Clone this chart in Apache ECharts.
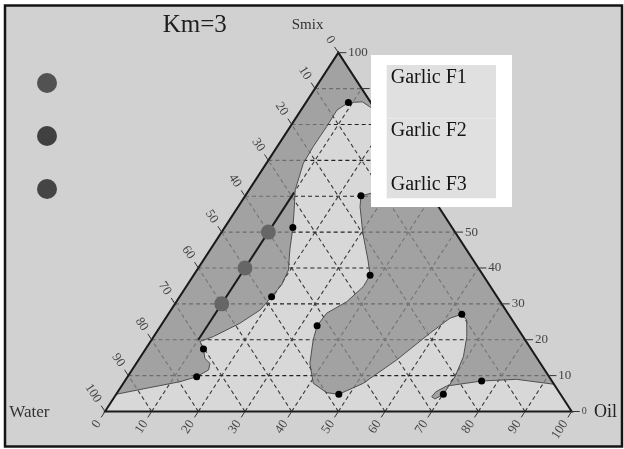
<!DOCTYPE html>
<html><head><meta charset="utf-8">
<script src="https://cdn.jsdelivr.net/npm/echarts@6/dist/echarts.min.js"></script>
<style>html,body{margin:0;padding:0;background:#fff}#c{width:624px;height:449px}</style>
</head><body><div id="c"></div>
<script>
// Ternary points are [Oil %, Smix %]; Water % = 100 - Oil - Smix
const tickValues = [0,10,20,30,40,50,60,70,80,90,100];
const gridValues = [10,20,30,40,50,60,70,80,90];
const vertices = [[0,0],[100,0],[0,100]]; // Water, Oil, Smix corners

// boundary of the clear (non-shaded) phase region, from left edge to right edge
const phaseBoundary = [
  [0,4.8],[5.7,6.5],[11.9,8.3],[14.8,9.7],[16.4,11.6],[15.8,13.4],[14.0,14.8],[12.4,17.4],
  [10.6,19.5],[12.8,20.9],[16.6,24.6],[19.1,28.3],[19.7,32.0],[20.2,35.3],[19.6,39.4],
  [17.1,45.0],[14.6,51.3],[12.3,56.5],[9.9,61.7],[7.9,69.2],[7.7,73.8],[7.8,79.4],[7.7,84.0],
  [9.1,86.1],[12,86.3],[15,84.5],[21,78],[27,69],[28.5,63.5],[27,61],
  [24.8,60.1],[26.1,57.1],[30.4,49.7],[35.25,42.2],[37.8,38.0],[37.95,34.8],[36.5,30.6],
  [33.8,27.4],[33.5,23.9],[34.65,19.9],[37.2,13.4],[40.7,7.86],[44.9,5.24],[47.7,4.8],
  [51.4,7.86],[55.3,14.35],[58.7,21.8],[60.9,26.0],[62.9,27.1],[64.75,25.5],[67.1,20.85],
  [69.15,15.3],[70.15,9.7],[70.1,4.8],[68.95,3.5],[67.95,4.1],[68.15,5.5],[69.65,7.1],
  [76.45,8.5],[83.7,8.97],[92.4,7.6]
];
const boundaryPoints = [
  [9.1,86.1],[24.8,60.1],[14.6,51.3],[37.8,38.0],[19.7,32.0],[33.5,23.9],
  [12.4,17.4],[14.8,9.7],[47.7,4.8],[62.9,27.1],[76.45,8.5],[70.1,4.8]
];
const formulationNames = ['Garlic F1','Garlic F2','Garlic F3'];
const formulationPoints = [[10,50],[10,40],[10,30]];
const legendColors = ['#525252','#404040','#454545'];
const dilutionLine = [[10,20],[10,61]];

const toXY = p => [p[0] + p[1] / 2, p[1]];
const SERIF = '"Liberation Serif","Times New Roman",serif';

const gridSegs = [];
gridValues.forEach(k => {
  gridSegs.push([...toXY([0,k]), ...toXY([100-k,k]), 0]);
  gridSegs.push([...toXY([k,0]), ...toXY([k,100-k]), 1]);
  gridSegs.push([...toXY([100-k,0]), ...toXY([0,100-k]), 1]);
});
const tickData = [];
[0,1,2].forEach(ax => tickValues.forEach(v => tickData.push([ax, v])));

function norm(a, b) { const dx = a[0]-b[0], dy = a[1]-b[1]; const l = Math.hypot(dx, dy); return [dx/l, dy/l]; }

const chart = echarts.init(document.getElementById('c'), null, {renderer: 'canvas'});
const series = [
  { type: 'custom', coordinateSystem: 'cartesian2d', clip: false, silent: true, z: 1, data: [[0,0]],
    renderItem: (p, api) => ({ type: 'polygon', shape: { points: vertices.map(v => api.coord(toXY(v))) },
      style: { fill: '#d8d8d8' } }) },
  { type: 'custom', coordinateSystem: 'cartesian2d', clip: false, silent: true, z: 2, data: gridSegs,
    renderItem: (p, api) => {
      const a = api.coord([api.value(0), api.value(1)]), b = api.coord([api.value(2), api.value(3)]);
      const h = api.value(4) === 0;
      return { type: 'line', shape: { x1: a[0], y1: a[1], x2: b[0], y2: b[1] },
        style: { stroke: h ? '#222' : '#3a3a3a', lineWidth: 1.1, lineDash: [4, 3] } };
    } },
  { type: 'custom', coordinateSystem: 'cartesian2d', clip: false, silent: true, z: 3, data: [[0,0]],
    renderItem: (p, api) => ({ type: 'polygon',
      shape: { points: phaseBoundary.concat([[0,100]]).map(q => api.coord(toXY(q))) },
      style: { fill: 'rgba(140,140,140,0.7)', stroke: '#505050', lineWidth: 1 } }) },
  { type: 'custom', coordinateSystem: 'cartesian2d', clip: false, silent: true, z: 4, data: [[0,0]],
    renderItem: (p, api) => ({ type: 'polygon', shape: { points: vertices.map(v => api.coord(toXY(v))) },
      style: { fill: null, stroke: '#1a1a1a', lineWidth: 2 } }) },
  { type: 'custom', coordinateSystem: 'cartesian2d', clip: false, silent: true, z: 4, data: tickData,
    renderItem: (p, api) => {
      const ax = api.value(0), v = api.value(1);
      const W = api.coord(toXY([0,0])), O = api.coord(toXY([100,0])), A = api.coord(toXY([0,100]));
      let base, dir, align, len = 7, gap = 5, font = '13px ' + SERIF;
      if (ax === 0) { base = api.coord(toXY([v,0])); dir = norm(W, A); align = 'right'; }
      else if (ax === 1) { base = api.coord(toXY([0,100-v])); dir = norm(A, O); align = 'right'; }
      else { base = api.coord(toXY([100-v,v])); dir = [1,0]; align = 'left'; len = 8; gap = 2;
             if (v === 0) font = '10px ' + SERIF; }
      const rot = ax === 2 ? 0 : Math.atan2(dir[1], -dir[0]);
      const e = [base[0] + dir[0]*len, base[1] + dir[1]*len];
      const t = [base[0] + dir[0]*(len+gap), base[1] + dir[1]*(len+gap)];
      return { type: 'group', children: [
        { type: 'line', shape: { x1: base[0], y1: base[1], x2: e[0], y2: e[1] }, style: { stroke: '#333', lineWidth: 1 } },
        { type: 'text', x: t[0], y: t[1], rotation: rot,
          style: { text: String(v), fill: '#444', font: font, align: align, verticalAlign: 'middle' } }
      ] };
    } },
  { type: 'line', z: 5, silent: true, data: dilutionLine.map(toXY), symbol: 'none',
    lineStyle: { color: '#1a1a1a', width: 2 } },
  { type: 'scatter', z: 7, silent: true, data: boundaryPoints.map(toXY), symbolSize: 7,
    itemStyle: { color: '#000', opacity: 1 } }
];
formulationNames.forEach((n, i) => series.push({
  type: 'scatter', name: n, z: 6, silent: true, symbolSize: 15,
  itemStyle: { color: legendColors[i], opacity: 1 },
  data: [{ value: toXY(formulationPoints[i]), itemStyle: { color: '#666', opacity: 1 } }]
}));

const txt = (text, x, y, size, color, z) => ({ type: 'text', x, y, z: z || 10,
  style: { text, fill: color, font: size + 'px ' + SERIF, verticalAlign: 'middle' } });

chart.setOption({
  animation: false,
  backgroundColor: '#ffffff',
  grid: { left: 105, top: 52.7, width: 466.7, height: 358.8 },
  xAxis: { type: 'value', min: 0, max: 100, show: false },
  yAxis: { type: 'value', min: 0, max: 100, show: false },
  legend: { orient: 'vertical', left: 37, top: 73, padding: 0, itemWidth: 20, itemHeight: 20, itemGap: 33,
    icon: 'circle', selectedMode: false, formatter: () => '',
    itemStyle: { opacity: 1 },
    data: formulationNames.map((n, i) => ({ name: n, itemStyle: { color: legendColors[i], opacity: 1 } })) },
  graphic: { elements: [
    { type: 'rect', z: -10, shape: { x: 5, y: 5.5, width: 617, height: 441 },
      style: { fill: '#d1d1d1', stroke: '#151515', lineWidth: 2.5 } },
    txt('Km=3', 162.7, 25, 25, '#1e1e1e'),
    txt('Smix', 291.7, 25, 15, '#333'),
    txt('Water', 9.3, 412.5, 17, '#333'),
    txt('Oil', 594, 412, 18, '#222'),
    { type: 'rect', z: 100, shape: { x: 371, y: 55, width: 141, height: 152 }, style: { fill: '#ffffff' } },
    { type: 'rect', z: 101, shape: { x: 386.7, y: 65, width: 109.3, height: 133.3 }, style: { fill: '#e0e0e0' } },
    { type: 'line', z: 102, shape: { x1: 386.7, y1: 118.3, x2: 496, y2: 118.3 }, style: { stroke: '#ebebeb', lineWidth: 1 } },
    txt(formulationNames[0], 390.7, 78, 20, '#151515', 103),
    txt(formulationNames[1], 390.7, 131, 20, '#151515', 103),
    txt(formulationNames[2], 390.7, 185, 20, '#151515', 103)
  ] },
  series
});
</script></body></html>
